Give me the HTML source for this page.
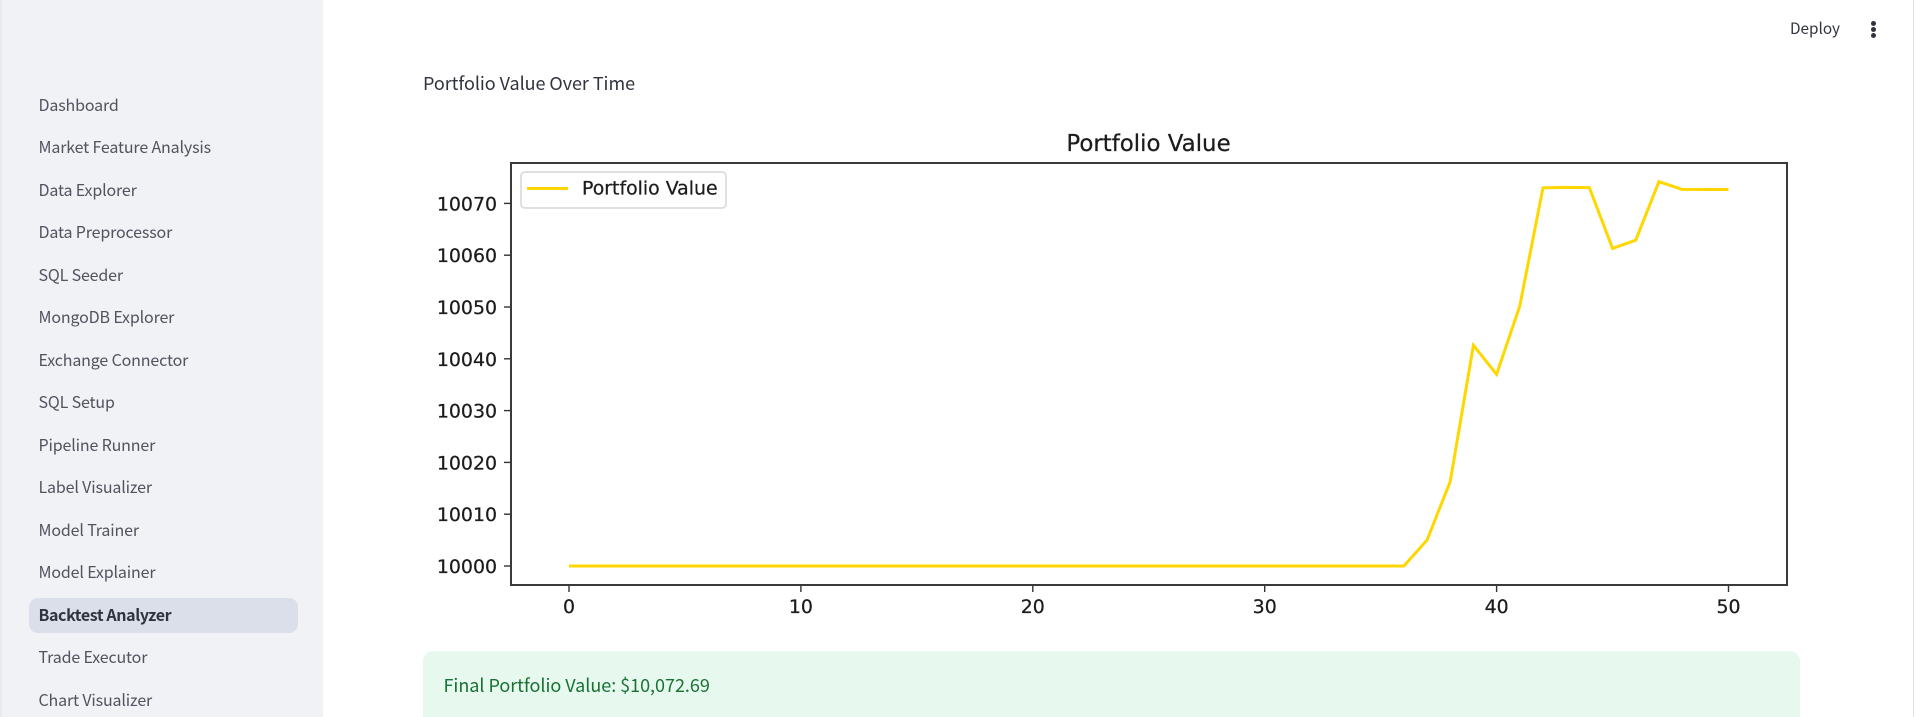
<!DOCTYPE html>
<html lang="en">
<head>
<meta charset="utf-8">
<title>Backtest Analyzer</title>
<style>
html,body{margin:0;padding:0;width:1917px;height:717px;overflow:hidden;background:#fff;}
body{position:relative;font-family:"Noto Sans CJK JP","Liberation Sans",sans-serif;color:#31333f;}
#sidebar{position:absolute;left:0;top:0;width:323px;height:717px;background:#f0f2f6;border-left:2px solid #e9eaec;box-sizing:border-box;}
.nav{position:absolute;left:38.5px;margin-top:-1px;font-size:16px;line-height:24px;height:24px;color:#51535e;white-space:nowrap;letter-spacing:-0.15px;}
#pill{position:absolute;left:29px;top:598px;width:269px;height:35px;border-radius:9px;background:#dadfe9;}
.nav.active{font-weight:600;color:#31333f;letter-spacing:-0.4px;}
#edge{position:absolute;left:1913px;top:0;width:1px;height:717px;background:#e2e3e6;}
#heading{position:absolute;left:423px;top:70px;font-size:18px;line-height:26px;white-space:nowrap;letter-spacing:-0.05px;}
#deploy{position:absolute;left:1790px;top:16px;font-size:15.3px;line-height:24px;white-space:nowrap;}
.dot{position:absolute;left:1871px;width:5px;height:5px;border-radius:50%;background:#31333f;}
#success{position:absolute;left:423px;top:651px;width:1377px;height:80px;border-radius:10px;background:#e7f8ee;}
#success-text{position:absolute;left:443.5px;top:672px;font-size:18px;line-height:26px;color:#177233;white-space:nowrap;letter-spacing:-0.03px;}
#chart{position:absolute;left:0;top:0;}
#chart text{font-family:"DejaVu Sans",sans-serif;fill:#1c1c1c;stroke:#1c1c1c;stroke-width:0.25px;}
</style>
</head>
<body>
<div id="sidebar"></div>
<div id="pill"></div>
<div class="nav" style="top:93px">Dashboard</div>
<div class="nav" style="top:135px">Market Feature Analysis</div>
<div class="nav" style="top:178px">Data Explorer</div>
<div class="nav" style="top:220px">Data Preprocessor</div>
<div class="nav" style="top:263px">SQL Seeder</div>
<div class="nav" style="top:305px">MongoDB Explorer</div>
<div class="nav" style="top:348px">Exchange Connector</div>
<div class="nav" style="top:390px">SQL Setup</div>
<div class="nav" style="top:433px">Pipeline Runner</div>
<div class="nav" style="top:475px">Label Visualizer</div>
<div class="nav" style="top:518px">Model Trainer</div>
<div class="nav" style="top:560px">Model Explainer</div>
<div class="nav active" style="top:603px">Backtest Analyzer</div>
<div class="nav" style="top:645px">Trade Executor</div>
<div class="nav" style="top:688px">Chart Visualizer</div>

<div id="edge"></div>
<div id="deploy">Deploy</div>
<div>
  <div class="dot" style="top:21px"></div>
  <div class="dot" style="top:27px"></div>
  <div class="dot" style="top:33px"></div>
</div>
<div id="heading">Portfolio Value Over Time</div>

<svg id="chart" width="1917" height="640" viewBox="0 0 1917 640">
  <g id="plot"></g>
  <rect x="511" y="163" width="1276" height="422" fill="none" stroke="#3a3a3a" stroke-width="2"/>
  <text x="1148.5" y="151" font-size="22.9" text-anchor="middle">Portfolio Value</text>
  <g>
    <rect x="521" y="172" width="205" height="36" rx="4" fill="#fff" stroke="#dcdcdc" stroke-width="1.8"/>
    <line x1="527" y1="188.5" x2="568" y2="188.5" stroke="#ffd700" stroke-width="3"/>
    <text x="582" y="194.5" font-size="18.9">Portfolio Value</text>
  </g>
</svg>

<div id="success"></div>
<div id="success-text">Final Portfolio Value: $10,072.69</div>

<script>
var timeSteps = [0,1,2,3,4,5,6,7,8,9,10,11,12,13,14,15,16,17,18,19,20,21,22,23,24,25,26,27,28,29,30,31,32,33,34,35,36,37,38,39,40,41,42,43,44,45,46,47,48,49,50];
var portfolioValues = [10000,10000,10000,10000,10000,10000,10000,10000,10000,10000,10000,10000,10000,10000,10000,10000,10000,10000,10000,10000,10000,10000,10000,10000,10000,10000,10000,10000,10000,10000,10000,10000,10000,10000,10000,10000,10000,10005,10016.3,10042.6,10037,10050.2,10073,10073.1,10073.05,10061.3,10062.9,10074.2,10072.7,10072.69,10072.69];
var xTicks = [0,10,20,30,40,50];
var yTicks = [10000,10010,10020,10030,10040,10050,10060,10070];

function xScale(v){ return 569 + v * 23.19; }
function yScale(v){ return 566 - (v - 10000) * 5.18; }

var svgNS = 'http://www.w3.org/2000/svg';
var plot = document.getElementById('plot');

xTicks.forEach(function(t){
  var x = xScale(t);
  var tick = document.createElementNS(svgNS, 'line');
  
  
  tick.setAttribute('x1', x);
  tick.setAttribute('x2', x);
  tick.setAttribute('y1', 585);
  tick.setAttribute('y2', 592);
  tick.setAttribute('stroke', '#333');
  tick.setAttribute('stroke-width', '1.4');
  plot.appendChild(tick);
  var label = document.createElementNS(svgNS, 'text');
  
  
  label.setAttribute('x', x);
  label.setAttribute('y', 613);
  label.setAttribute('font-size', '18.9');
  label.setAttribute('text-anchor', 'middle');
  label.textContent = t;
  plot.appendChild(label);
});

yTicks.forEach(function(t){
  var y = yScale(t);
  var tick = document.createElementNS(svgNS, 'line');
  
  
  tick.setAttribute('x1', 504);
  tick.setAttribute('x2', 511);
  tick.setAttribute('y1', y);
  tick.setAttribute('y2', y);
  tick.setAttribute('stroke', '#333');
  tick.setAttribute('stroke-width', '1.4');
  plot.appendChild(tick);
  var label = document.createElementNS(svgNS, 'text');
  
  
  label.setAttribute('x', 497);
  label.setAttribute('y', y + 7);
  label.setAttribute('font-size', '18.9');
  label.setAttribute('text-anchor', 'end');
  label.textContent = t;
  plot.appendChild(label);
});

var points = timeSteps.map(function(t, i){
  return xScale(t) + ',' + yScale(portfolioValues[i]);
}).join(' ');
var series = document.createElementNS(svgNS, 'polyline');


series.setAttribute('points', points);
series.setAttribute('fill', 'none');
series.setAttribute('stroke', '#ffd700');
series.setAttribute('stroke-width', '3');
series.setAttribute('stroke-linejoin', 'miter');
plot.appendChild(series);
</script>
</body>
</html>
